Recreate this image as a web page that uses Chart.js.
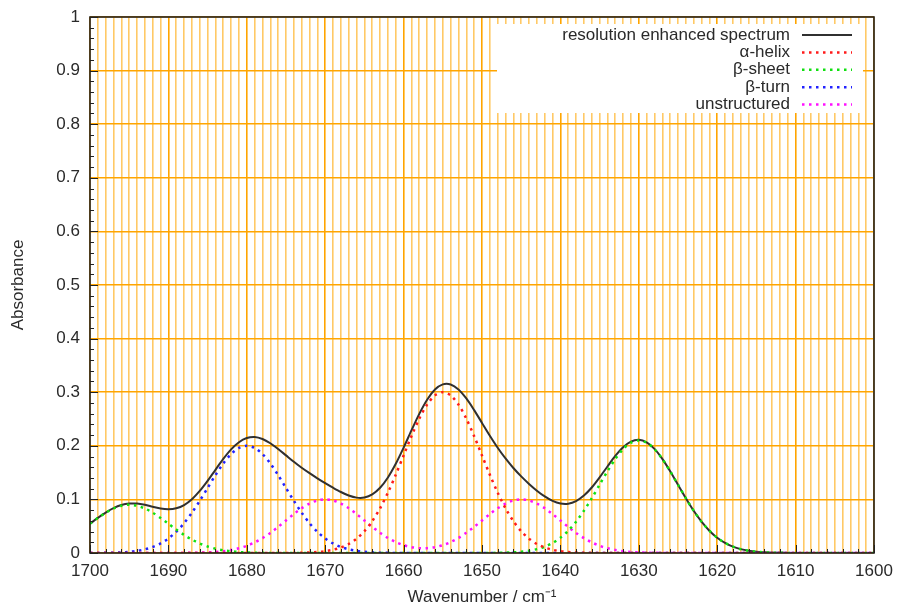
<!DOCTYPE html>
<html>
<head>
<meta charset="utf-8">
<title>Amide I band deconvolution</title>
<script src="https://cdn.jsdelivr.net/npm/chart.js@4.4.0/dist/chart.umd.min.js"></script>
<style>
  html, body { margin: 0; padding: 0; background: #fff; }
  canvas { display: block; }
</style>
</head>
<body>
<canvas id="spectrum-chart" width="898" height="612"></canvas>
<script>
// ---------- Data ----------
const wavenumbers = [
  1700, 1699, 1698, 1697, 1696, 1695, 1694, 1693, 1692, 1691,
  1690, 1689, 1688, 1687, 1686, 1685, 1684, 1683, 1682, 1681,
  1680, 1679, 1678, 1677, 1676, 1675, 1674, 1673, 1672, 1671,
  1670, 1669, 1668, 1667, 1666, 1665, 1664, 1663, 1662, 1661,
  1660, 1659, 1658, 1657, 1656, 1655, 1654, 1653, 1652, 1651,
  1650, 1649, 1648, 1647, 1646, 1645, 1644, 1643, 1642, 1641,
  1640, 1639, 1638, 1637, 1636, 1635, 1634, 1633, 1632, 1631,
  1630, 1629, 1628, 1627, 1626, 1625, 1624, 1623, 1622, 1621,
  1620, 1619, 1618, 1617, 1616, 1615, 1614, 1613, 1612, 1611,
  1610, 1609, 1608, 1607, 1606, 1605, 1604, 1603, 1602, 1601,
  1600,
];

const spectrum = [
  0.0547, 0.0655, 0.0755, 0.0837, 0.0894, 0.0922, 0.0922, 0.0899, 0.0864, 0.0831,
  0.0817, 0.0835, 0.0895, 0.1004, 0.1158, 0.1346, 0.1552, 0.1755, 0.1933, 0.2067,
  0.2145, 0.2164, 0.2127, 0.2047, 0.1940, 0.1821, 0.1702, 0.1590, 0.1489, 0.1394,
  0.1304, 0.1218, 0.1138, 0.1072, 0.1033, 0.1035, 0.1093, 0.1217, 0.1410, 0.1665,
  0.1966, 0.2287, 0.2596, 0.2860, 0.3049, 0.3146, 0.3144, 0.3051, 0.2883, 0.2666,
  0.2427, 0.2188, 0.1964, 0.1764, 0.1586, 0.1429, 0.1289, 0.1163, 0.1055, 0.0972,
  0.0924, 0.0920, 0.0969, 0.1071, 0.1222, 0.1410, 0.1614, 0.1810, 0.1973, 0.2078,
  0.2111, 0.2064, 0.1942, 0.1756, 0.1526, 0.1274, 0.1022, 0.0788, 0.0584, 0.0416,
  0.0284, 0.0187, 0.0118, 0.0072, 0.0042, 0.0023, 0.0013, 0.0006, 0.0003, 0.0002,
  0.0001, 0, 0, 0, 0, 0, 0, 0, 0, 0,
  0,
];

const alphaHelix = [
  0, 0, 0, 0, 0, 0, 0, 0, 0, 0,
  0, 0, 0, 0, 0, 0, 0, 0, 0, 0,
  0, 0, 0, 0, 0, 0.0001, 0.0002, 0.0005, 0.0009, 0.0018,
  0.0033, 0.0060, 0.0102, 0.0168, 0.0267, 0.0406, 0.0594, 0.0834, 0.1126, 0.1460,
  0.1820, 0.2179, 0.2506, 0.2769, 0.2941, 0.3000, 0.2941, 0.2769, 0.2506, 0.2179,
  0.1820, 0.1460, 0.1126, 0.0834, 0.0594, 0.0406, 0.0267, 0.0168, 0.0102, 0.0060,
  0.0033, 0.0018, 0.0009, 0.0005, 0.0002, 0.0001, 0, 0, 0, 0,
  0, 0, 0, 0, 0, 0, 0, 0, 0, 0,
  0, 0, 0, 0, 0, 0, 0, 0, 0, 0,
  0, 0, 0, 0, 0, 0, 0, 0, 0, 0,
  0,
];

const betaSheet = [
  0.0546, 0.0654, 0.0752, 0.0831, 0.0882, 0.0900, 0.0882, 0.0831, 0.0752, 0.0654,
  0.0546, 0.0438, 0.0338, 0.0250, 0.0178, 0.0122, 0.0080, 0.0051, 0.0031, 0.0018,
  0.0010, 0.0005, 0.0003, 0.0001, 0, 0, 0, 0, 0, 0,
  0, 0, 0, 0, 0, 0, 0, 0, 0, 0,
  0, 0, 0, 0, 0, 0, 0, 0, 0, 0,
  0.0001, 0.0002, 0.0003, 0.0007, 0.0013, 0.0023, 0.0042, 0.0072, 0.0118, 0.0187,
  0.0284, 0.0416, 0.0584, 0.0788, 0.1022, 0.1274, 0.1525, 0.1754, 0.1939, 0.2058,
  0.2100, 0.2058, 0.1939, 0.1754, 0.1525, 0.1274, 0.1022, 0.0788, 0.0584, 0.0416,
  0.0284, 0.0187, 0.0118, 0.0072, 0.0042, 0.0023, 0.0013, 0.0006, 0.0003, 0.0002,
  0.0001, 0, 0, 0, 0, 0, 0, 0, 0, 0,
  0,
];

const betaTurn = [
  0.0001, 0.0002, 0.0003, 0.0006, 0.0012, 0.0022, 0.0040, 0.0068, 0.0112, 0.0178,
  0.0271, 0.0396, 0.0556, 0.0751, 0.0974, 0.1213, 0.1452, 0.1671, 0.1846, 0.1960,
  0.2000, 0.1960, 0.1846, 0.1671, 0.1452, 0.1213, 0.0974, 0.0751, 0.0556, 0.0396,
  0.0271, 0.0178, 0.0112, 0.0068, 0.0040, 0.0022, 0.0012, 0.0006, 0.0003, 0.0002,
  0.0001, 0, 0, 0, 0, 0, 0, 0, 0, 0,
  0, 0, 0, 0, 0, 0, 0, 0, 0, 0,
  0, 0, 0, 0, 0, 0, 0, 0, 0, 0,
  0, 0, 0, 0, 0, 0, 0, 0, 0, 0,
  0, 0, 0, 0, 0, 0, 0, 0, 0, 0,
  0, 0, 0, 0, 0, 0, 0, 0, 0, 0,
  0,
];

const unstructured = [
  0, 0, 0, 0, 0, 0, 0, 0, 0, 0,
  0, 0.0001, 0.0002, 0.0003, 0.0006, 0.0011, 0.0020, 0.0034, 0.0056, 0.0089,
  0.0135, 0.0198, 0.0278, 0.0375, 0.0487, 0.0607, 0.0726, 0.0835, 0.0923, 0.0980,
  0.1000, 0.0980, 0.0923, 0.0835, 0.0726, 0.0607, 0.0488, 0.0377, 0.0281, 0.0204,
  0.0146, 0.0109, 0.0090, 0.0090, 0.0109, 0.0146, 0.0204, 0.0281, 0.0377, 0.0488,
  0.0607, 0.0726, 0.0835, 0.0923, 0.0980, 0.1000, 0.0980, 0.0923, 0.0835, 0.0726,
  0.0607, 0.0487, 0.0375, 0.0278, 0.0198, 0.0135, 0.0089, 0.0056, 0.0034, 0.0020,
  0.0011, 0.0006, 0.0003, 0.0002, 0.0001, 0, 0, 0, 0, 0,
  0, 0, 0, 0, 0, 0, 0, 0, 0, 0,
  0, 0, 0, 0, 0, 0, 0, 0, 0, 0,
  0,
];

const seriesLabels = ["resolution enhanced spectrum", "α-helix", "β-sheet", "β-turn", "unstructured"];
const xTitle = "Wavenumber / cm⁻¹";
const yTitle = "Absorbance";

// ---------- Style ----------
const FONT = '"Liberation Sans", Arial, Helvetica, sans-serif';
const color = {
  text: "#2a2a2a",
  axis: "#222222",
  spectrum: "#303030",
  red: "#ff1a1a",
  green: "#10e010",
  blue: "#2222ff",
  magenta: "#ff10ff",
  gridMajor: "#ffa500",
  gridMinor: "#ffc966",
};

Chart.defaults.font.family = FONT;
Chart.defaults.font.size = 17;
Chart.defaults.color = color.text;

const pts = (vals) => vals.map((v, i) => ({ x: wavenumbers[i], y: v }));

const dotted = (label, values, stroke) => ({
  label,
  data: pts(values),
  borderColor: stroke,
  backgroundColor: stroke,
  borderWidth: 2.5,
  borderDash: [2.5, 4.5],
  pointRadius: 0,
  tension: 0.3,
  fill: false,
  order: 0,
});

// ---------- Plugins: inward tics + frame, gnuplot-like key ----------
const frameAndTics = {
  id: "frameAndTics",
  afterDatasetsDraw(chart) {
    const { ctx, chartArea: a, scales: { x, y } } = chart;
    ctx.save();
    ctx.strokeStyle = color.axis;
    ctx.lineWidth = 1;
    ctx.beginPath();
    for (let v = 1600; v <= 1700; v += 2) {
      const px = Math.round(x.getPixelForValue(v)) + 0.5;
      const len = v % 10 === 0 ? 8 : 4;
      ctx.moveTo(px, a.bottom);
      ctx.lineTo(px, a.bottom - len);
    }
    for (let k = 0; k <= 50; k++) {
      const py = Math.round(y.getPixelForValue(k / 50)) + 0.5;
      const len = k % 5 === 0 ? 8 : 4;
      ctx.moveTo(a.left, py);
      ctx.lineTo(a.left + len, py);
    }
    ctx.stroke();
    ctx.lineWidth = 1.6;
    ctx.strokeRect(a.left, a.top, a.right - a.left, a.bottom - a.top);
    ctx.restore();
  },
};

const keyBox = {
  id: "keyBox",
  afterDatasetsDraw(chart) {
    const { ctx, chartArea: a } = chart;
    const boxL = a.right - 377, boxT = a.top + 7;
    ctx.save();
    ctx.fillStyle = "#fff";
    ctx.fillRect(boxL, boxT, 366, 89);
    ctx.font = "17px " + FONT;
    ctx.textAlign = "right";
    ctx.textBaseline = "middle";
    chart.data.datasets.forEach((ds, i) => {
      const yy = a.top + 18 + i * 17.4;
      ctx.fillStyle = color.text;
      ctx.fillText(ds.label, a.right - 84, yy);
      ctx.strokeStyle = ds.borderColor;
      ctx.lineWidth = ds.borderWidth;
      ctx.setLineDash(ds.borderDash || []);
      ctx.beginPath();
      ctx.moveTo(a.right - 72, yy);
      ctx.lineTo(a.right - 22, yy);
      ctx.stroke();
    });
    ctx.restore();
  },
};

// Let the layout padding alone decide the plot frame (no label-overflow margins)
const noOverflow = (s) => {
  s.paddingTop = 0;
  s.paddingBottom = 0;
  s.paddingLeft = 0;
  s.paddingRight = 0;
};

// ---------- Chart ----------
new Chart(document.getElementById("spectrum-chart"), {
  type: "line",
  data: {
    datasets: [
      {
        label: seriesLabels[0],
        data: pts(spectrum),
        borderColor: color.spectrum,
        backgroundColor: color.spectrum,
        borderWidth: 2,
        pointRadius: 0,
        tension: 0.3,
        fill: false,
        order: 1,
      },
      dotted(seriesLabels[1], alphaHelix, color.red),
      dotted(seriesLabels[2], betaSheet, color.green),
      dotted(seriesLabels[3], betaTurn, color.blue),
      dotted(seriesLabels[4], unstructured, color.magenta),
    ],
  },
  options: {
    responsive: false,
    animation: false,
    devicePixelRatio: 1,
    layout: { padding: { top: 17, right: 24, left: 0, bottom: 0 } },
    plugins: { legend: { display: false }, tooltip: { enabled: false } },
    scales: {
      x: {
        type: "linear",
        min: 1600,
        max: 1700,
        reverse: true,
        afterFit: (s) => { s.height = 59; noOverflow(s); },
        ticks: {
          stepSize: 1,
          autoSkip: false,
          maxRotation: 0,
          padding: 8,
          color: color.text,
          callback: (v) => (v % 10 === 0 ? String(v) : ""),
        },
        grid: {
          drawTicks: false,
          color: (c) => (c.tick && c.tick.value % 10 === 0 ? color.gridMajor : color.gridMinor),
          lineWidth: 1.6,
        },
        border: { display: false },
        title: {
          display: true,
          text: xTitle,
          color: color.text,
          padding: { top: 0, bottom: 4 },
        },
      },
      y: {
        min: 0,
        max: 1,
        afterFit: (s) => { s.width = 90; noOverflow(s); },
        ticks: {
          stepSize: 0.1,
          padding: 10,
          color: color.text,
          callback: (v) => String(Math.round(v * 10) / 10),
        },
        grid: { drawTicks: false, color: color.gridMajor, lineWidth: 1.6 },
        border: { display: false },
        title: {
          display: true,
          text: yTitle,
          color: color.text,
          padding: { top: 8, bottom: 0 },
        },
      },
    },
  },
  plugins: [keyBox, frameAndTics],
});
</script>
</body>
</html>
